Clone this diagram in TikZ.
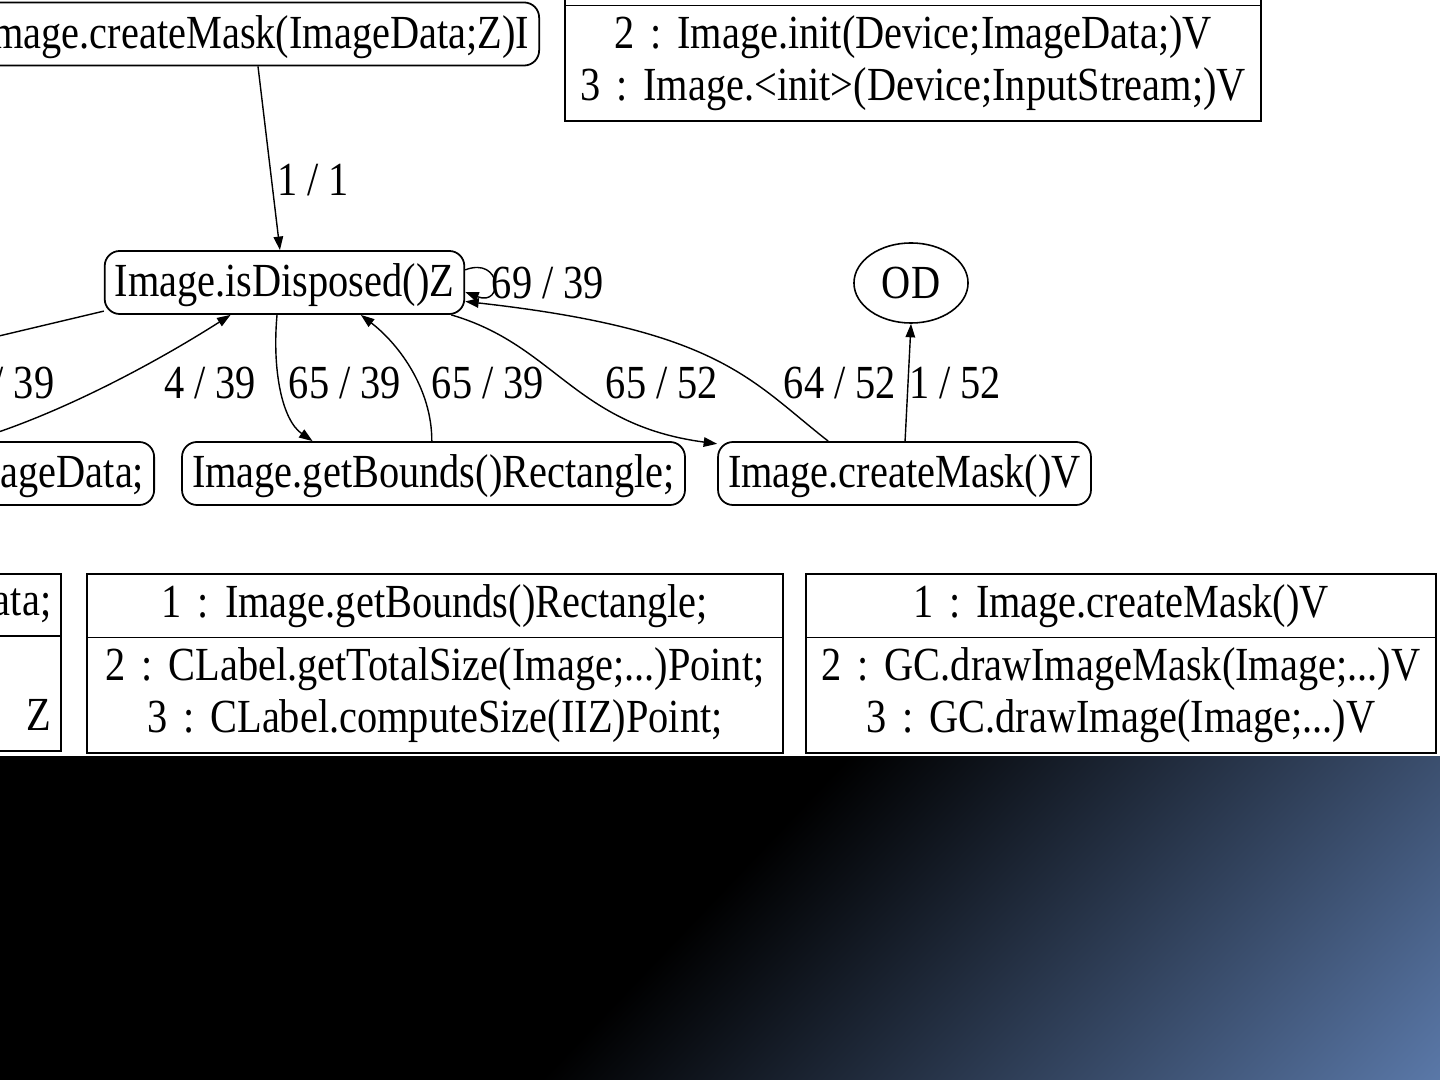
\documentclass[tikz,border=0pt]{standalone}
\usepackage{fontspec}
\setmainfont{Liberation Serif}[FakeStretch=0.85]
\usepackage{xcolor}
\usepackage{tikz}
\usetikzlibrary{arrows.meta}
\usetikzlibrary{shapes.geometric,shapes.multipart}
\usetikzlibrary{calc}
\definecolor{bandblue}{RGB}{90,120,168}

\begin{document}
\frenchspacing
\begin{tikzpicture}[x=0.01cm,y=-0.01cm,
        every node/.style={font=\fontsize{13.5pt}{14.76pt}\selectfont},
        call/.style={draw,line width=0.5pt,rounded corners=1.5mm,minimum height=0.63cm,inner xsep=0.1cm,inner ysep=0pt,text height=9.2pt,text depth=1pt},
        frame/.style={draw,line width=0.45pt,rectangle split,rectangle split parts=2,inner xsep=0.1cm,inner ysep=0.095cm,align=center},
        edge/.style={line width=0.4pt,-{Triangle[length=1.35mm,width=0.95mm]}},
        elab/.style={inner sep=0pt}]
        \useasboundingbox (0,0) rectangle (1440,1080);
        \fill[white] (0,0) rectangle (1440,1080);
        \begin{scope}
          \clip (0,756) rectangle (1440,1080);
          \begin{scope}[transform canvas={rotate around={-43.6:(720,917.5)}}]
            \fill[black] (-400,-300) rectangle (730,2100);
            \fill[bandblue] (1320,-300) rectangle (2000,2100);
            \shade[left color=black,right color=bandblue] (702,-300) rectangle (1354,2100);
          \end{scope}
        \end{scope}

        \node[call,anchor=east] (cmI) at (540,34) {Image.createMask(ImageData;Z)I};
        \node[call] (isd) at (284.5,282.5) {Image.isDisposed()Z};
        \node[draw,ellipse,line width=0.45pt,minimum width=1.14cm,minimum height=0.8cm,inner sep=0pt] (od) at (911,283) {OD};
        \node[call,anchor=east,text width=3cm,align=right] (ad) at (155,473.5) {ageData;};
        \node[call] (gb) at (433.5,473.5) {Image.getBounds()Rectangle;};
        \node[call] (cmv) at (904.5,473.5) {Image.createMask()V};

        \node[frame,text width=6.76cm,anchor=south west] (initbox) at (564,122)
          {\vphantom{(}\nodepart{two}2 : Image.init(Device;ImageData;)V\\3 : Image.<init>(Device;InputStream;)V};
        \node[frame,text width=6.76cm,anchor=north east,align=right] (adbox) at (62,573)
          {ata;\vphantom{Ig}\nodepart{two}\vphantom{(}\\Z\vphantom{p}\hspace*{0.44cm}};
        \node[frame,text width=6.76cm,anchor=north west] (gbbox) at (86,573)
          {1 : Image.getBounds()Rectangle;\nodepart{two}2 : CLabel.getTotalSize(Image;...)Point;\\3 : CLabel.computeSize(IIZ)Point;};
        \node[frame,text width=6.10cm,anchor=north west] (cmbox) at (805,573)
          {1 : Image.createMask()V\nodepart{two}2 : GC.drawImageMask(Image;...)V\\3 : GC.drawImage(Image;...)V};

        \coordinate (offl) at (-60,350);
        \draw[edge] ($(cmI.south east)+(-282,0)$) -- (isd.98);
        \draw[edge] (isd.4) .. controls (502,256) and (504,307) .. (isd.-3);
        \draw[edge] (isd.189) -- (offl);
        \draw[edge] ($(ad.north east)+(-185,0)$) .. controls (60,415) and (160,360) .. (isd.211);
        \draw[edge] (isd.257) .. controls (272,370) and (282,420) .. (gb.165);
        \draw[edge] (gb.93) .. controls (432,390) and (400,345) .. (isd.-23);
        \draw[edge] (isd.-11) .. controls (555,345) and (575,425) .. (cmv.171);
        \draw[edge] (cmv.157) .. controls (750,380) and (720,330) .. (isd.-6);
        \draw[edge] (cmv.89) -- (od.south);

        \node[elab] (l1) at (313,180) {1 / 1};
        \node[elab] (l2) at (548,283) {69 / 39};
        \node[elab,anchor=east] (l3) at (55,383) {/ 39};
        \node[elab] (l4) at (210,383) {4 / 39};
        \node[elab] (l5) at (345,383) {65 / 39};
        \node[elab] (l6) at (488,383) {65 / 39};
        \node[elab] (l7) at (662,383) {65 / 52};
        \node[elab] (l8) at (840,383) {64 / 52};
        \node[elab] (l9) at (955,383) {1 / 52};
      \end{tikzpicture}
\end{document}
